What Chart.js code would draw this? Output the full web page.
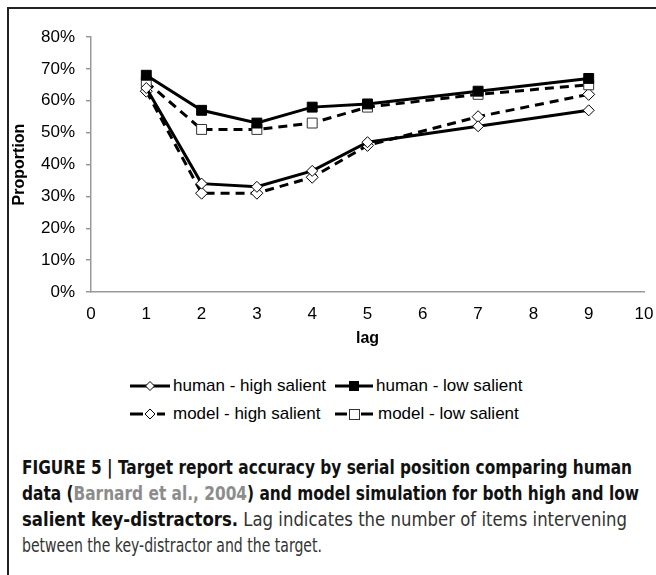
<!DOCTYPE html>
<html>
<head>
<meta charset="utf-8">
<script src="https://cdn.jsdelivr.net/npm/chart.js@4/dist/chart.umd.min.js"></script>
<style>
    html, body { margin: 0; padding: 0; background: #fff; }
    body { width: 656px; height: 575px; position: relative; overflow: hidden; font-family: 'Liberation Sans', Arial, sans-serif; }
    #frame { position: absolute; left: 7px; top: 7px; width: 700px; height: 620px; border-left: 2px solid #222; border-top: 2px solid #222; }
    #chart { position: absolute; left: 0; top: 0; }
    .leg { position: absolute; height: 22px; display: flex; align-items: center; font-size: 17px; color: #000; white-space: nowrap; }
    .leg svg { display: block; margin-right: 3px; }
    .cap { position: absolute; left: 22px; font-family: 'Liberation Sans Narrow', 'DejaVu Sans Condensed', 'Liberation Sans', sans-serif; font-stretch: condensed; font-size: 19px; line-height: 24px; white-space: nowrap; transform-origin: 0 50%; color: #333; }
    .cap b { color: #111; }
    .cap .ref { color: #8c8c8c; }
</style>
</head>
<body>
<div id="frame"></div>
<canvas id="chart" width="656" height="355"></canvas>

<div class="leg" style="left:130px; top:375px;">
    <svg width="40" height="14"><line x1="0" y1="7" x2="40" y2="7" stroke="#000" stroke-width="3"/><path d="M20 2.5 L24.5 7 L20 11.5 L15.5 7 Z" fill="#fff" stroke="#000" stroke-width="1"/></svg>human - high salient
</div>
<div class="leg" style="left:335px; top:375px;">
    <svg width="38" height="14"><line x1="0" y1="7" x2="38" y2="7" stroke="#000" stroke-width="3"/><rect x="14" y="2" width="10" height="10" fill="#000"/></svg>human - low salient
</div>
<div class="leg" style="left:130px; top:403px;">
    <svg width="40" height="14"><line x1="0" y1="7" x2="13" y2="7" stroke="#000" stroke-width="3"/><line x1="27" y1="7" x2="35" y2="7" stroke="#000" stroke-width="3"/><path d="M20 2 L25 7 L20 12 L15 7 Z" fill="#fff" stroke="#000" stroke-width="1"/></svg>model - high salient
</div>
<div class="leg" style="left:335px; top:403px;">
    <svg width="40" height="14"><line x1="0" y1="7" x2="12" y2="7" stroke="#000" stroke-width="3"/><line x1="26" y1="7" x2="38" y2="7" stroke="#000" stroke-width="3"/><rect x="14.5" y="2.5" width="10" height="10" fill="#fff" stroke="#333" stroke-width="1"/></svg>model - low salient
</div>

<div class="cap" data-w="610" style="top:455px;"><b>FIGURE 5 | Target report accuracy by serial position comparing human</b></div>
<div class="cap" data-w="617" style="top:481px;"><b>data (<span class="ref">Barnard et al., 2004</span>) and model simulation for both high and low</b></div>
<div class="cap" data-w="605" style="top:507px;"><b>salient key-distractors.</b> Lag indicates the number of items intervening</div>
<div class="cap" data-w="300" style="top:533px;">between the key-distractor and the target.</div>

<script>
// ---- DATA ----
const lags = [1, 2, 3, 4, 5, 7, 9];
const humanHigh = [64, 34, 33, 38, 47, 52, 57];
const humanLow = [68, 57, 53, 58, 59, 63, 67];
const modelHigh = [63, 31, 31, 36, 46, 55, 62];
const modelLow = [66, 51, 51, 53, 58, 62, 65];
const yTicks = [0, 10, 20, 30, 40, 50, 60, 70, 80];

const toPoints = (vals) => lags.map((lag, i) => ({ x: lag, y: vals[i] }));

// squeeze caption lines to the width they have in the figure
document.querySelectorAll('.cap').forEach(el => {
    const target = +el.dataset.w;
    const w = el.getBoundingClientRect().width;
    el.style.transform = 'scaleX(' + (target / w) + ')';
});

const tickFont = { family: "'Liberation Sans', Arial, sans-serif", size: 17 };
const titleFont = { family: "'Liberation Sans', Arial, sans-serif", size: 16, weight: 'bold' };

new Chart(document.getElementById('chart'), {
    type: 'line',
    data: {
        datasets: [
            {
                label: 'human - low salient',
                data: toPoints(humanLow),
                borderColor: '#000',
                borderWidth: 3,
                pointStyle: 'rect',
                pointRadius: 7,
                pointBackgroundColor: '#000',
                pointBorderColor: '#000',
                pointBorderWidth: 1
            },
            {
                label: 'human - high salient',
                data: toPoints(humanHigh),
                borderColor: '#000',
                borderWidth: 3,
                pointStyle: 'rectRot',
                pointRadius: 5.5,
                pointBackgroundColor: '#fff',
                pointBorderColor: '#000',
                pointBorderWidth: 1
            },
            {
                label: 'model - low salient',
                data: toPoints(modelLow),
                borderColor: '#000',
                borderWidth: 3,
                borderDash: [9, 6],
                pointStyle: 'rect',
                pointRadius: 7,
                pointBackgroundColor: '#fff',
                pointBorderColor: '#333',
                pointBorderWidth: 1
            },
            {
                label: 'model - high salient',
                data: toPoints(modelHigh),
                borderColor: '#000',
                borderWidth: 3,
                borderDash: [9, 6],
                pointStyle: 'rectRot',
                pointRadius: 6,
                pointBackgroundColor: '#fff',
                pointBorderColor: '#000',
                pointBorderWidth: 1
            }
        ]
    },
    options: {
        responsive: false,
        animation: false,
        layout: { padding: { left: 8, right: 12, top: 37, bottom: 5 } },
        plugins: { legend: { display: false }, tooltip: { enabled: false } },
        scales: {
            x: {
                type: 'linear',
                min: 0,
                max: 10,
                ticks: { stepSize: 1, color: '#000', font: tickFont, padding: 4, maxRotation: 0 },
                grid: { display: false },
                border: { display: true, color: '#999', width: 1.5 },
                title: { display: true, text: 'lag', color: '#000', font: titleFont, padding: { top: 0, bottom: 2 } },
                afterFit: (scale) => {
                    scale.height = 58;
                    scale.paddingLeft = 0;
                    scale.paddingRight = 0;
                }
            },
            y: {
                min: 0,
                max: 80,
                afterBuildTicks: (scale) => { scale.ticks = yTicks.map(v => ({ value: v })); },
                ticks: { color: '#000', font: tickFont, padding: 11, callback: (v) => v + '%' },
                grid: { drawOnChartArea: false, drawTicks: true, tickLength: 5, color: '#999', lineWidth: 1.5 },
                border: { display: true, color: '#999', width: 1.5 },
                title: { display: true, text: 'Proportion', color: '#000', font: titleFont, padding: { top: 2, bottom: 0 } },
                afterFit: (scale) => { scale.width = 83; }
            }
        }
    }
});
</script>
</body>
</html>
